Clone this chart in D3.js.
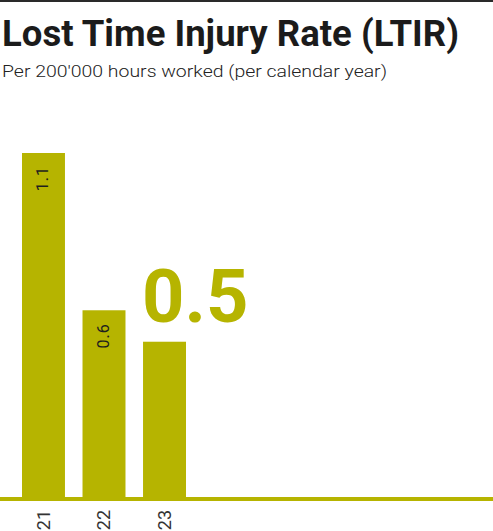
<!DOCTYPE html>
<head>
<meta charset="utf-8">
<title>Lost Time Injury Rate (LTIR)</title>
<script src="https://d3js.org/d3.v7.min.js"></script>
<style>
  body { margin: 0; background: #fff; }
  svg { display: block; font-family: Roboto, sans-serif; }
  .title { font-size: 36px; font-weight: 700; fill: #1b1b1b; }
  .subtitle { font-size: 17px; font-weight: 300; fill: #222; }
  .bar { fill: #b6b400; }
  .bar-label { font-size: 16px; font-weight: 400; fill: #1e1e1e; letter-spacing: 1px; }
  .x-label { font-size: 18px; font-weight: 400; fill: #333; }
  .big-value { font-size: 74px; font-weight: 700; fill: #b6b400; }
</style>
</head>
<body>
<script>
var width = 493, height = 531;

var years = ["21", "22", "23"];
var ltir = [1.1, 0.6, 0.5];
var highlightYear = "23";

var data = years.map(function(y, i) { return {year: y, value: ltir[i]}; });

var svg = d3.select("body").append("svg")
    .attr("width", width)
    .attr("height", height);

// rule across the top
svg.append("rect")
    .attr("x", 0).attr("y", 0)
    .attr("width", width).attr("height", 2)
    .attr("fill", "#2a2a2a");

svg.append("text")
    .attr("class", "title")
    .attr("x", 2)
    .attr("y", 46)
    .attr("textLength", 457)
    .attr("lengthAdjust", "spacingAndGlyphs")
    .text("Lost Time Injury Rate (LTIR)");

svg.append("text")
    .attr("class", "subtitle")
    .attr("x", 2)
    .attr("y", 77)
    .attr("textLength", 385)
    .attr("lengthAdjust", "spacingAndGlyphs")
    .text("Per 200'000 hours worked (per calendar year)");

var x = d3.scaleBand()
    .domain(years)
    .range([22, 186])
    .paddingInner(0.29)
    .paddingOuter(0);

var y = d3.scaleLinear()
    .domain([0, 1.1])
    .range([499, 153]);

svg.selectAll("rect.bar")
    .data(data)
  .enter().append("rect")
    .attr("class", "bar")
    .attr("x", function(d) { return x(d.year); })
    .attr("y", function(d) { return y(d.value); })
    .attr("width", x.bandwidth())
    .attr("height", function(d) { return y(0) - y(d.value); });

// baseline
svg.append("rect")
    .attr("class", "bar")
    .attr("x", 0)
    .attr("y", y(0) - 2)
    .attr("width", width)
    .attr("height", 4);

// rotated values inside the bars (not for the highlighted year)
svg.selectAll("text.bar-label")
    .data(data.filter(function(d) { return d.year !== highlightYear; }))
  .enter().append("text")
    .attr("class", "bar-label")
    .attr("text-anchor", "end")
    .attr("dy", "0.35em")
    .attr("transform", function(d) {
      return "translate(" + (x(d.year) + x.bandwidth() / 2 - 1) + "," + (y(d.value) + 13) + ") rotate(-90)";
    })
    .text(function(d) { return d3.format(".1f")(d.value); });

// year labels under the baseline
svg.selectAll("text.x-label")
    .data(years)
  .enter().append("text")
    .attr("class", "x-label")
    .attr("text-anchor", "end")
    .attr("dy", "0.35em")
    .attr("transform", function(d) {
      return "translate(" + (x(d) + x.bandwidth() / 2) + "," + (y(0) + 11) + ") rotate(-90)";
    })
    .text(function(d) { return d; });

// big current value
var current = data.filter(function(d) { return d.year === highlightYear; })[0];
svg.append("text")
    .attr("class", "big-value")
    .attr("x", x(current.year) - 1)
    .attr("y", y(current.value) - 20)
    .text(d3.format(".1f")(current.value));
</script>
</body>
